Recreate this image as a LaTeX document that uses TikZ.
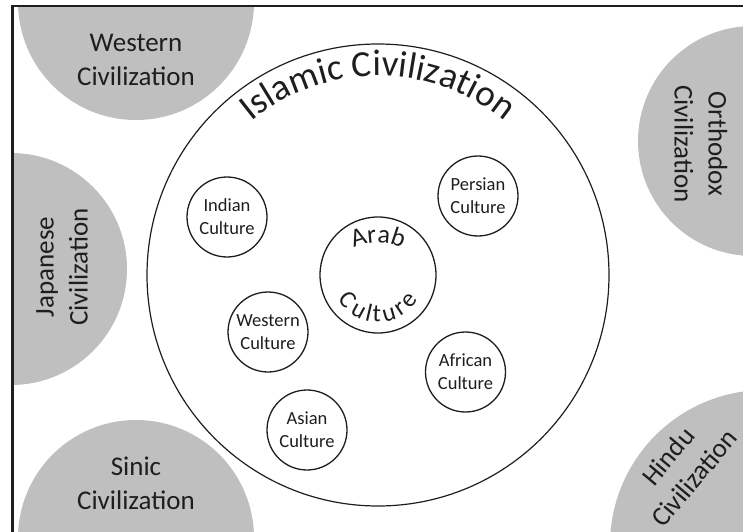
\documentclass[tikz,border=0pt]{standalone}
\usepackage{fontspec}
\setmainfont{Carlito}
\usetikzlibrary{decorations.text}

\definecolor{civgray}{HTML}{BFBFBF}
\definecolor{ink}{HTML}{1E1E1E}

\tikzset{
  civtext/.style={text=ink, align=center, font=\fontsize{27}{34}\selectfont},
  culture/.style={circle, draw=ink, line width=1.3pt, fill=white, minimum size=80pt,
                  inner sep=0pt, align=center, text=ink, font=\fontsize{18.5}{23}\selectfont},
  ring/.style={circle, draw=ink, line width=1.2pt, inner sep=0pt},
  arctext/.style={decorate, decoration={text along path, text align=center}}
}

\begin{document}
\begin{tikzpicture}[x=1pt, y=1pt]
  \useasboundingbox (0,0) rectangle (743,531);

  % surrounding civilizations, cut off by the frame
  \begin{scope}
    \clip (12.5,-20) rectangle (760,525);
    \fill[civgray] (136,529) circle[radius=118pt];
    \fill[civgray] (11,262) circle[radius=116pt];
    \fill[civgray] (753,390) circle[radius=115pt];
    \fill[civgray] (136,-7) circle[radius=118pt];
    \fill[civgray] (765,-14) circle[radius=155pt];
  \end{scope}

  % frame
  \draw[line width=2.5pt, ink] (12.5,-20) rectangle (760,525);

  \node[civtext] (western) at (136,471) {Western\\Civilization};
  \node[civtext, rotate=90] (japanese) at (62,264) {Japanese\\Civilization};
  \node[civtext, rotate=-90] (orthodox) at (701,387) {Orthodox\\Civilization};
  \node[civtext] (sinic) at (136,48) {Sinic\\Civilization};
  \node[civtext, rotate=50] (hindu) at (681,64) {Hindu\\Civilization};

  % Islamic civilization
  \node[ring, minimum size=462pt] (islamic) at (378,256) {};
  \path[arctext, decoration={text={|\fontsize{37}{40}\selectfont\color{ink}|Islamic Civilization}}]
    (islamic.center) ++(150:199pt) arc[start angle=150, end angle=30, radius=199pt];

  % Arab culture at the core
  \node[ring, line width=1.3pt, minimum size=116pt] (arab) at (378,256) {};
  \coordinate (arabtop) at (378,231);
  \path[arctext, decoration={text={|\fontsize{26}{28}\selectfont\color{ink}|Arab}}]
    (arabtop) ++(150:57pt) arc[start angle=150, end angle=30, radius=57pt];
  \path[arctext, decoration={raise=-12pt, text={|\fontsize{25}{28}\selectfont\color{ink}|Culture}}]
    (arab.center) ++(170:35pt) arc[start angle=170, end angle=370, radius=35pt];

  % other cultures
  \node[culture] (indian)  at (227,314)   {Indian\\Culture};
  \node[culture] (persian) at (478,335)   {Persian\\Culture};
  \node[culture] (westc)   at (268,199)   {Western\\Culture};
  \node[culture] (african) at (465.5,159) {African\\Culture};
  \node[culture] (asian)   at (307,101)   {Asian\\Culture};
\end{tikzpicture}
\end{document}
